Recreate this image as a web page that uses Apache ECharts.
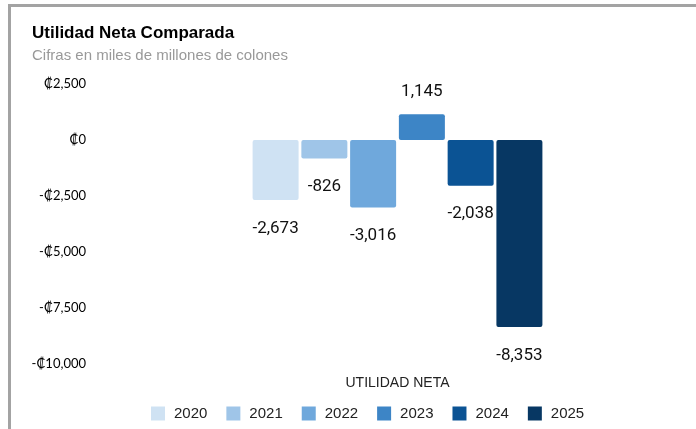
<!DOCTYPE html>
<html>
<head>
<meta charset="utf-8">
<script src="https://cdn.jsdelivr.net/npm/echarts@6/dist/echarts.min.js"></script>
<style>
  html, body { margin: 0; padding: 0; background: #fff; overflow: hidden; }
  #frame { position: absolute; left: 8px; top: 4px; width: 720px; height: 460px;
           border-left: 3px solid #a3a3a3; border-top: 3px solid #a3a3a3; }
  #chart { position: absolute; left: 0; top: 0; width: 696px; height: 429px; }
</style>
</head>
<body>
<div id="frame"></div>
<div id="chart"></div>
<script>
 // datos
 var categories = ['UTILIDAD NETA'];
 var years = ['2020', '2021', '2022', '2023', '2024', '2025'];
 var values = [-2673, -826, -3016, 1145, -2038, -8353];
 var colors = ['#cfe2f3', '#9fc5e8', '#6fa8dc', '#3d85c6', '#0b5394', '#073763'];

 function fmt(n) {
     return Math.abs(n).toLocaleString('en-US');
 }

 var series = years.map(function(y, i) {
     var v = values[i];
     return {
         name: y,
         type: 'bar',
         barWidth: 46,
         barGap: '6%',
         itemStyle: { color: colors[i], borderRadius: 2 },
         label: {
             show: true,
             position: v < 0 ? 'bottom' : 'top',
             distance: v < 0 ? 20 : 14,
             fontFamily: 'Roboto',
             fontSize: 17,
             color: '#111',
             formatter: function(p) { return (p.value < 0 ? '-' : '') + fmt(p.value); }
         },
         data: [v]
     };
 });

 var chart = echarts.init(document.getElementById('chart'));
 chart.setOption({
     animation: false,
     title: {
         text: 'Utilidad Neta Comparada',
         subtext: 'Cifras en miles de millones de colones',
         left: 27,
         top: 20,
         itemGap: 6,
         textStyle: { fontFamily: 'Liberation Sans', fontSize: 17, fontWeight: 'bold', color: '#000' },
         subtextStyle: { fontFamily: 'Liberation Sans', fontSize: 15, color: '#999' }
     },
     legend: {
         top: 401,
         left: 146,
         itemWidth: 14,
         itemHeight: 14,
         itemGap: 19,
         icon: 'rect',
         textStyle: { fontFamily: 'Liberation Sans', fontSize: 15, color: '#222', padding: [0, 0, 0, 4] },
         data: years
     },
     grid: { left: 99, top: 84, width: 600, height: 280, containLabel: false },
     xAxis: {
         type: 'category',
         data: categories,
         axisLine: { show: false },
         axisTick: { show: false },
         axisLabel: { margin: 12, fontFamily: 'Liberation Sans', fontSize: 14, color: '#222' }
     },
     yAxis: {
         type: 'value',
         min: -10000,
         max: 2500,
         interval: 2500,
         splitLine: { show: false },
         axisLine: { show: false },
         axisTick: { show: false },
         axisLabel: {
             margin: 13,
             fontFamily: 'Lato',
             fontSize: 13,
             color: '#000',
             formatter: function(v) { return (v < 0 ? '-₡' : '₡') + fmt(v); }
         }
     },
     series: series
 });
</script>
</body>
</html>
